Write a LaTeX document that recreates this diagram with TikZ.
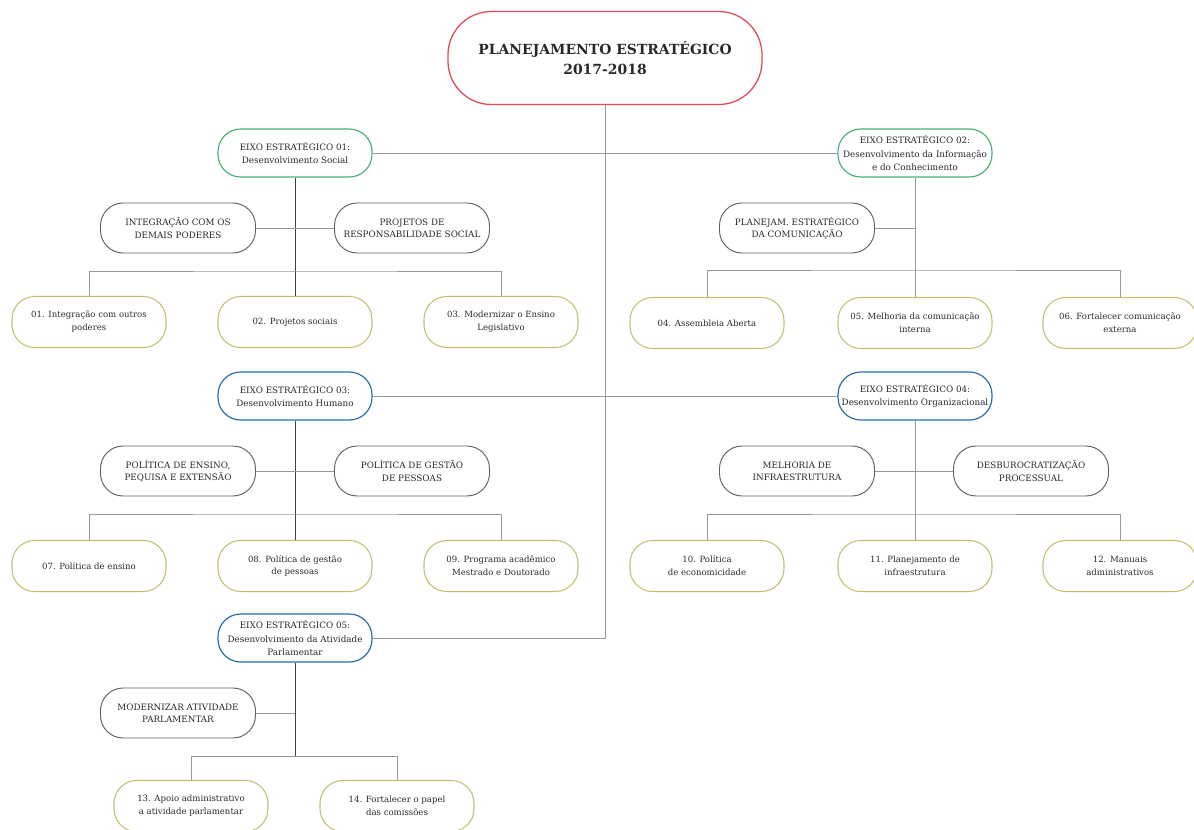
\documentclass[tikz,border=0pt]{standalone}
\usepackage{fontspec}
\setmainfont{DejaVu Serif}
\usepackage{xcolor}
\usepackage{tikz}
\definecolor{rootred}{RGB}{226,76,88}
\definecolor{eixogreen}{RGB}{72,178,118}
\definecolor{eixoblue}{RGB}{38,108,170}
\definecolor{metaolive}{RGB}{196,190,112}
\definecolor{subgray}{RGB}{95,95,95}
\definecolor{txtgray}{RGB}{40,40,40}
\tikzset{
  box/.style={draw, rounded corners=0.68cm, align=center, text=txtgray, inner sep=1pt},
  rootbox/.style={box, draw=rootred, line width=1.1pt, minimum width=9.42cm, minimum height=2.79cm, rounded corners=1.3cm, font=\fontsize{11.9}{17}\selectfont\bfseries},
  eixogreenbox/.style={box, draw=eixogreen, line width=1pt, minimum width=4.62cm, minimum height=1.44cm, font=\fontsize{7.5}{11.5}\selectfont},
  eixobluebox/.style={eixogreenbox, draw=eixoblue},
  subbox/.style={box, draw=subgray, line width=0.8pt, minimum width=4.65cm, minimum height=1.5cm, font=\fontsize{7.5}{10.5}\selectfont},
  metabox/.style={box, draw=metaolive, line width=0.9pt, minimum width=4.62cm, minimum height=1.53cm, font=\fontsize{7.3}{11}\selectfont},
  stem/.style={draw=black!75, line width=0.6pt},
  link/.style={draw=black!40, line width=0.6pt}
}
\begin{document}
\begin{tikzpicture}[x=0.03cm,y=-0.03cm]
    \useasboundingbox (0,0) rectangle (1194,829);
    \node[rootbox] (root) at (605,58) {PLANEJAMENTO ESTRATÉGICO\\2017-2018};

    \node[eixogreenbox] (e1) at (295,153) {EIXO ESTRATÉGICO 01:\\Desenvolvimento Social};
    \node[eixogreenbox] (e2) at (915,153) {EIXO ESTRATÉGICO 02:\\Desenvolvimento da Informação\\e do Conhecimento};
    \node[eixobluebox] (e3) at (295,396) {EIXO ESTRATÉGICO 03:\\Desenvolvimento Humano};
    \node[eixobluebox] (e4) at (915,396) {EIXO ESTRATÉGICO 04:\\Desenvolvimento Organizacional};
    \node[eixobluebox] (e5) at (295,638) {EIXO ESTRATÉGICO 05:\\Desenvolvimento da Atividade\\Parlamentar};

    \node[subbox] (s1a) at (178,228) {INTEGRAÇÃO COM OS\\DEMAIS PODERES};
    \node[subbox] (s1b) at (412,228) {PROJETOS DE\\RESPONSABILIDADE SOCIAL};
    \node[subbox] (s2a) at (797,228) {PLANEJAM. ESTRATÉGICO\\DA COMUNICAÇÃO};
    \node[subbox] (s3a) at (178,471) {POLÍTICA DE ENSINO,\\PEQUISA E EXTENSÃO};
    \node[subbox] (s3b) at (412,471) {POLÍTICA DE GESTÃO\\DE PESSOAS};
    \node[subbox] (s4a) at (797,471) {MELHORIA DE\\INFRAESTRUTURA};
    \node[subbox] (s4b) at (1031,471) {DESBUROCRATIZAÇÃO\\PROCESSUAL};
    \node[subbox] (s5a) at (178,713) {MODERNIZAR ATIVIDADE\\PARLAMENTAR};

    \node[metabox] (m01) at (89,322) {01. Integração com outros\\poderes};
    \node[metabox] (m02) at (295,322) {02. Projetos sociais};
    \node[metabox] (m03) at (501,322) {03. Modernizar o Ensino\\Legislativo};
    \node[metabox] (m04) at (707,323) {04. Assembleia Aberta};
    \node[metabox] (m05) at (915,323) {05. Melhoria da comunicação\\interna};
    \node[metabox] (m06) at (1120,323) {06. Fortalecer comunicação\\externa};
    \node[metabox] (m07) at (89,566) {07. Política de ensino};
    \node[metabox] (m08) at (295,566) {08. Política de gestão\\de pessoas};
    \node[metabox] (m09) at (501,566) {09. Programa acadêmico\\Mestrado e Doutorado};
    \node[metabox] (m10) at (707,566) {10. Política\\de economicidade};
    \node[metabox] (m11) at (915,566) {11. Planejamento de\\infraestrutura};
    \node[metabox] (m12) at (1120,566) {12. Manuais\\administrativos};
    \node[metabox] (m13) at (191,806) {13. Apoio administrativo\\a atividade parlamentar};
    \node[metabox] (m14) at (397,806) {14. Fortalecer o papel\\das comissões};

    \coordinate (b1) at (295,271);
    \coordinate (b2) at (915,270);
    \coordinate (b3) at (295,514);
    \coordinate (b4) at (915,514);
    \coordinate (b5) at (295,756);

    \draw[link] (root.south) |- (e5.east);
    \draw[link] (e1) -- (e2);
    \draw[link] (e3) -- (e4);

    \draw[stem] (e1.south) -- (m02.north);
    \draw[link] (s1a) -- (s1b);
    \draw[link] (m01.north) |- (b1) -| (m03.north);

    \draw[link] (e2.south) -- (m05.north);
    \draw[link] (s2a.east) -- (s2a.east -| e2.south);
    \draw[link] (m04.north) |- (b2) -| (m06.north);

    \draw[stem] (e3.south) -- (m08.north);
    \draw[link] (s3a) -- (s3b);
    \draw[link] (m07.north) |- (b3) -| (m09.north);

    \draw[link] (e4.south) -- (m11.north);
    \draw[link] (s4a) -- (s4b);
    \draw[link] (m10.north) |- (b4) -| (m12.north);

    \draw[stem] (e5.south) -- (b5);
    \draw[link] (s5a.east) -- (s5a.east -| e5.south);
    \draw[link] (m13.north) |- (b5) -| (m14.north);
\end{tikzpicture}
\end{document}
